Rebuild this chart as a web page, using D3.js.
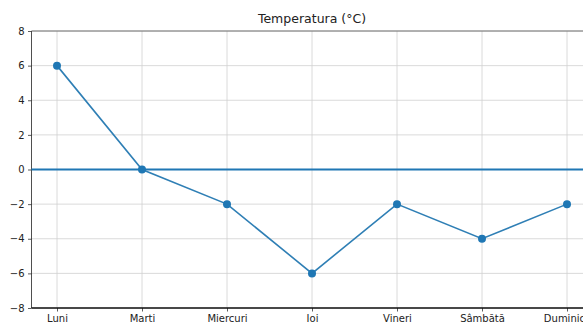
<!DOCTYPE html>
<html>
<head>
<meta charset="utf-8">
<script src="https://cdn.jsdelivr.net/npm/d3@7"></script>
<style>
  body { margin: 0; background: #fff; }
  text { font-family: "DejaVu Sans", sans-serif; }
</style>
</head>
<body>
<svg></svg>
<script>
let width = 583;
let height = 322;

// data
let days = ['Luni', 'Marti', 'Miercuri', 'Joi', 'Vineri', 'Sâmbătă', 'Duminică'];
let temps = [6, 0, -2, -6, -2, -4, -2];
let yTicks = [-8, -6, -4, -2, 0, 2, 4, 6, 8];

let svg = d3.select('svg')
    .attr('width', width)
    .attr('height', height)

let axLeft = 31.5, axRight = 592.5, axTop = 31, axBottom = 308;

let x = d3.scaleLinear()
    .domain([-0.3, days.length - 1 + 0.3])
    .range([axLeft, axRight]);

let y = d3.scaleLinear()
    .domain([-8, 8])
    .range([axBottom, axTop]);

// grid
svg.append('g').selectAll('line')
    .data(days)
    .enter()
    .append('line')
    .attr('x1', (d, i) => x(i))
    .attr('x2', (d, i) => x(i))
    .attr('y1', axTop)
    .attr('y2', axBottom)
    .attr('stroke', '#d0d0d0')
    .attr('stroke-width', 0.8);

svg.append('g').selectAll('line')
    .data(yTicks)
    .enter()
    .append('line')
    .attr('x1', axLeft)
    .attr('x2', axRight)
    .attr('y1', d => y(d))
    .attr('y2', d => y(d))
    .attr('stroke', '#d0d0d0')
    .attr('stroke-width', 0.8);

// axes
let fmt = d => d < 0 ? '\u2212' + Math.abs(d) : '' + d;

let yAxis = svg.append('g')
    .attr('transform', 'translate(' + axLeft + ',0)')
    .call(d3.axisLeft(y).tickValues(yTicks).tickFormat(fmt).tickSize(3.5).tickPadding(3.5));

let xAxis = svg.append('g')
    .attr('transform', 'translate(0,' + axBottom + ')')
    .call(d3.axisBottom(x).tickValues(d3.range(days.length)).tickFormat(i => days[i]).tickSize(3.5).tickPadding(3));

[xAxis, yAxis].forEach(g => {
    g.selectAll('text').attr('font-size', 10).attr('fill', '#222');
    g.selectAll('.tick line').attr('stroke', '#333').attr('stroke-width', 0.8);
    g.select('.domain').remove();
});

// spines
svg.append('line')
    .attr('x1', axLeft).attr('x2', axLeft).attr('y1', axTop).attr('y2', axBottom)
    .attr('stroke', '#222').attr('stroke-width', 0.8);
svg.append('line')
    .attr('x1', axLeft).attr('x2', axRight).attr('y1', axTop).attr('y2', axTop)
    .attr('stroke', '#555').attr('stroke-width', 0.8);
svg.append('line')
    .attr('x1', axLeft).attr('x2', axRight).attr('y1', axBottom).attr('y2', axBottom)
    .attr('stroke', '#111').attr('stroke-width', 1.4);

// zero line
svg.append('line')
    .attr('x1', axLeft).attr('x2', axRight)
    .attr('y1', y(0)).attr('y2', y(0))
    .attr('stroke', '#1f77b4')
    .attr('stroke-width', 2);

// series
let line = d3.line()
    .x((d, i) => x(i))
    .y(d => y(d));

svg.append('path')
    .datum(temps)
    .attr('d', line)
    .attr('fill', 'none')
    .attr('stroke', '#2f7fb5')
    .attr('stroke-width', 1.6);

svg.append('g').selectAll('circle')
    .data(temps)
    .enter()
    .append('circle')
    .attr('cx', (d, i) => x(i))
    .attr('cy', d => y(d))
    .attr('r', 4)
    .attr('fill', '#1f77b4');

// title
svg.append('text')
    .attr('x', (axLeft + axRight) / 2)
    .attr('y', 23)
    .attr('text-anchor', 'middle')
    .attr('font-size', 12.5)
    .attr('fill', '#222')
    .text('Temperatura (°C)');
</script>
</body>
</html>
